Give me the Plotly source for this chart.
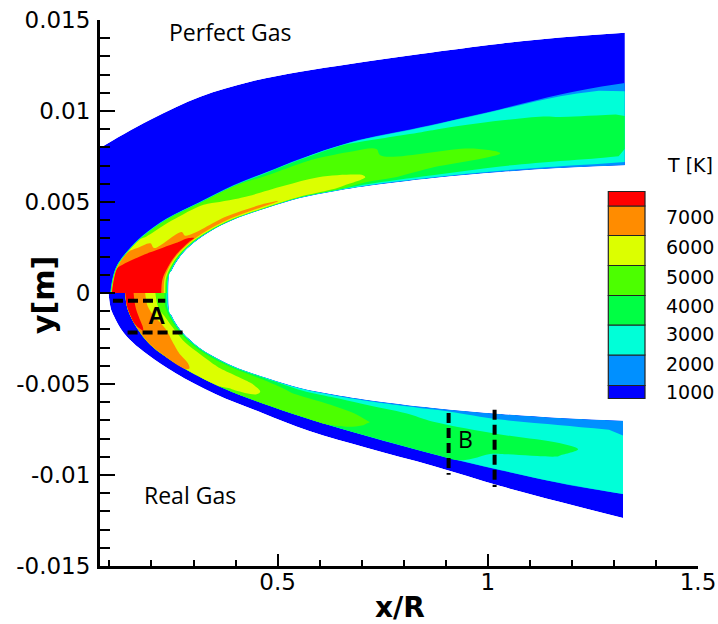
import plotly.graph_objects as go

# ---------------- data ----------------
# body surface, one point per station (upper half; the lower half is its mirror)
body_x = [0.2400, 0.2407, 0.2488, 0.2686, 0.3002, 0.3399, 0.3953, 0.4748,
          0.5540, 0.6325, 0.7134, 0.8704, 1.0298, 1.1725, 1.3260]
body_y = [0.0, 0.000714, 0.001264, 0.002011, 0.002747, 0.003385, 0.004028, 0.004670,
          0.005220, 0.005582, 0.005879, 0.006319, 0.006648, 0.006868, 0.007020]

# Perfect gas (upper half): shock and outer boundary per station
pg_shock_x = [0.1061, 0.1116, 0.1211, 0.1449, 0.1813, 0.2369, 0.3161, 0.3953,
              0.4748, 0.5540, 0.6729, 0.8394, 1.0298, 1.1725, 1.3260]
pg_shock_y = [0.0, 0.000824, 0.001484, 0.002253, 0.003110, 0.004028, 0.004945, 0.005857,
              0.006593, 0.007324, 0.008242, 0.009066, 0.010071, 0.010879, 0.011538]
pg_outer_x = [-0.2048, -0.1834, -0.1358, -0.0645, 0.0069, 0.0783, 0.1972, 0.3161,
              0.4351, 0.5540, 0.6729, 0.8394, 1.0298, 1.1725, 1.3260]
pg_outer_y = [0.0, 0.002198, 0.003956, 0.005604, 0.006923, 0.007983, 0.009522, 0.010786,
              0.011610, 0.012159, 0.012582, 0.013132, 0.013698, 0.014038, 0.014302]

# Real gas (lower half): shock and outer boundary per station
rg_shock_x = [0.1377, 0.1418, 0.1496, 0.1663, 0.1901, 0.2234, 0.2805, 0.3756,
              0.4826, 0.5897, 0.7134, 0.8704, 1.0298, 1.1725, 1.3216]
rg_shock_y = [0.0, -0.000714, -0.001220, -0.001940, -0.002659, -0.003330, -0.004176, -0.005275,
              -0.006209, -0.007033, -0.007857, -0.008846, -0.009725, -0.010440, -0.011044]
rg_outer_x = [0.0980, 0.1020, 0.1104, 0.1282, 0.1544, 0.1924, 0.2567, 0.3518,
              0.4636, 0.5754, 0.7134, 0.8704, 1.0298, 1.1725, 1.3216]
rg_outer_y = [0.0, -0.000714, -0.001253, -0.002000, -0.002692, -0.003407, -0.004396, -0.005549,
              -0.006593, -0.007582, -0.008516, -0.009505, -0.010604, -0.011484, -0.012363]

# temperature [K] across the shock layer (wall -> shock) at each station
layer_frac = [0.0, 0.04, 0.1, 0.2, 0.3, 0.45, 0.6, 0.75, 0.9, 1.0]
T_freestream = 300
pg_T = [
    [1500, 4500, 6800, 7600, 7800, 7900, 8000, 8000, 7800, 7500],
    [1500, 4500, 6900, 7600, 7800, 7900, 7950, 7900, 7600, 7300],
    [1500, 4500, 7000, 7600, 7750, 7800, 7750, 7600, 7200, 6900],
    [1500, 4500, 7000, 7500, 7600, 7400, 7100, 6700, 6300, 6000],
    [1500, 4500, 7100, 7200, 6900, 6500, 5950, 5600, 5200, 4800],
    [1500, 5000, 6800, 6400, 5950, 5600, 5400, 5200, 5000, 4500],
    [1500, 5200, 6400, 6000, 5650, 5400, 5300, 5150, 5000, 4300],
    [1500, 5600, 6150, 5900, 5550, 5200, 4900, 4700, 4500, 4000],
    [1500, 5000, 5800, 5650, 5400, 5100, 4700, 4500, 4200, 3600],
    [1500, 4800, 5500, 5450, 5250, 5000, 4600, 4400, 4100, 3300],
    [1500, 3000, 4300, 5050, 4950, 4750, 4500, 4200, 3700, 2900],
    [1500, 2800, 3600, 4000, 4400, 4300, 3950, 3600, 3100, 2500],
    [1500, 2500, 3100, 3850, 4000, 3800, 3500, 3250, 2750, 2000],
    [1500, 2300, 3050, 3500, 3600, 3450, 3200, 2900, 2500, 1900],
    [1500, 2200, 2950, 3300, 3400, 3300, 3080, 2700, 2300, 1800],
]
rg_T = [
    [1500, 3000, 4300, 4650, 5000, 5650, 6250, 6850, 7250, 7300],
    [1500, 3100, 4400, 4800, 5150, 5800, 6350, 6900, 7200, 7200],
    [1500, 3300, 4600, 5050, 5500, 6050, 6450, 6900, 7150, 7100],
    [1500, 3600, 4800, 5300, 5900, 6300, 6600, 6850, 7050, 6950],
    [1500, 3500, 4550, 5150, 5600, 6000, 6300, 6550, 6700, 6600],
    [1500, 3400, 4300, 5000, 5300, 5700, 5950, 6250, 6350, 6250],
    [1500, 3300, 4100, 4700, 4950, 5300, 5600, 5850, 5990, 6000],
    [1500, 3200, 3900, 4400, 4750, 5100, 5250, 5200, 5050, 4800],
    [1500, 2500, 3300, 3800, 4050, 4450, 4700, 4800, 4700, 4500],
    [1500, 2400, 3100, 3600, 3900, 4250, 4400, 4400, 4300, 4100],
    [1500, 2300, 2800, 3300, 3600, 3900, 4020, 3950, 3800, 3600],
    [1500, 2100, 2500, 2800, 3000, 3300, 3500, 3550, 3500, 3300],
    [1300, 1700, 2000, 2550, 2850, 3200, 3300, 2900, 2650, 2500],
    [1300, 1650, 1950, 2450, 2850, 3100, 2980, 2800, 2600, 2450],
    [1300, 1600, 1900, 2200, 2500, 2750, 2800, 2700, 2550, 2400],
]

levels = [1000, 2000, 3000, 4000, 5000, 6000, 7000]
level_labels = ["1000", "2000", "3000", "4000", "5000", "6000", "7000"]
band_colors = ["#0000ff", "#0090ff", "#00ffd8", "#00ff44",
               "#4cff00", "#dcff00", "#ff8c00", "#ff0000"]

x_ticks = [0.5, 1.0, 1.5]
x_ticktext = ["0.5", "1", "1.5"]
x_minor = [0.1, 0.2, 0.3, 0.4, 0.6, 0.7, 0.8, 0.9, 1.1, 1.2, 1.3, 1.4]
y_ticks = [-0.015, -0.01, -0.005, 0.0, 0.005, 0.01, 0.015]
y_ticktext = ["-0.015", "-0.01", "-0.005", "0", "0.005", "0.01", "0.015"]

# dashed marker lines (regions A and B)
A_lines = [([0.1085, 0.2329], [-0.000423, -0.000423]),
           ([0.1432, 0.2828], [-0.002165, -0.002165])]
B_lines = [([0.9068, 0.9068], [-0.006593, -0.009984]),
           ([1.0162, 1.0162], [-0.006412, -0.010660])]

# ---------------- build the body-fitted grids ----------------
b_nodes = layer_frac + [1.015, 2.0]


def build(bx, by, sx, sy, ox, oy, T):
    X, Y, Z = [], [], []
    n = len(bx)
    for k, b in enumerate(b_nodes):
        rx, ry, rz = [], [], []
        for i in range(n):
            if b <= 1.0:
                rx.append(bx[i] + b * (sx[i] - bx[i]))
                ry.append(by[i] + b * (sy[i] - by[i]))
                rz.append(T[i][k])
            else:
                t = b - 1.0
                rx.append(sx[i] + t * (ox[i] - sx[i]))
                ry.append(sy[i] + t * (oy[i] - sy[i]))
                rz.append(T_freestream)
        X.append(rx); Y.append(ry); Z.append(rz)
    return X, Y, Z


n_st = len(body_x)
a_idx = list(range(n_st))
body_y_low = [-v for v in body_y]
body_x_low = body_x[:-1] + [rg_shock_x[-1]]

Xu, Yu, Zu = build(body_x, body_y, pg_shock_x, pg_shock_y, pg_outer_x, pg_outer_y, pg_T)
Xl, Yl, Zl = build(body_x_low, body_y_low, rg_shock_x, rg_shock_y, rg_outer_x, rg_outer_y, rg_T)

# stepped colour scale: band midpoints map to k/7
nb = len(band_colors)
cscale = []
for k, c in enumerate(band_colors):
    lo = max(0.0, (k - 0.5) / (nb - 1))
    hi = min(1.0, (k + 0.5) / (nb - 1))
    cscale.append([lo, c])
    cscale.append([hi, c])

hidden_axis = dict(showgrid=False, showline=False, showticklabels="none",
                   startline=False, endline=False, minorgridcount=0,
                   gridcolor="rgba(0,0,0,0)", linecolor="rgba(0,0,0,0)")

fig = go.Figure()
for cid, X, Y, Z in [("pg", Xu, Yu, Zu), ("rg", Xl, Yl, Zl)]:
    fig.add_trace(go.Carpet(carpet=cid, a=a_idx, b=b_nodes, x=X, y=Y,
                            aaxis=dict(hidden_axis, smoothing=1),
                            baxis=dict(hidden_axis, smoothing=0)))
    fig.add_trace(go.Contourcarpet(carpet=cid, a=a_idx, b=b_nodes, z=Z,
                                   autocontour=False,
                                   contours=dict(start=levels[0], end=levels[-1],
                                                 size=levels[1] - levels[0],
                                                 coloring="fill", showlines=False),
                                   colorscale=cscale, showscale=False,
                                   line=dict(width=0, color="rgba(0,0,0,0)", smoothing=1)))

# dashed lines
for xs, ys in A_lines + B_lines:
    fig.add_shape(type="line", xref="x", yref="y", x0=xs[0], x1=xs[1], y0=ys[0], y1=ys[1],
                  line=dict(color="black", width=4, dash="10px,5px"))

# ---------------- layout ----------------
W, H = 718, 624
ML, MR, MT, MB = 100, 20, 20, 58
pw, ph = W - ML - MR, H - MT - MB


def px(xp):
    return (xp - ML) / pw


def py(yp):
    return (H - MB - yp) / ph


fig.update_layout(width=W, height=H, margin=dict(l=ML, r=MR, t=MT, b=MB, autoexpand=False),
                  plot_bgcolor="white", paper_bgcolor="white", showlegend=False)

tickfont = dict(family="DejaVu Sans", size=23, color="black")
fig.update_xaxes(range=[0.0776, 1.5], tickmode="array", tickvals=x_ticks,
                 ticktext=x_ticktext, ticks="inside", ticklen=12, tickwidth=2,
                 tickcolor="black", showline=True, linewidth=3, linecolor="black",
                 showgrid=False, zeroline=False, tickfont=tickfont, ticklabelstandoff=-7,
                 automargin=False,
                 minor=dict(tickmode="array", tickvals=x_minor,
                            ticks="inside", ticklen=6, tickwidth=2, tickcolor="black",
                            showgrid=False))
ymin = [round(-0.015 + 0.001 * i, 3) for i in range(31)]
ymin = [v for v in ymin if all(abs(v - m) > 1e-9 for m in y_ticks)]
fig.update_yaxes(range=[-0.015, 0.015], tickmode="array", tickvals=y_ticks,
                 ticktext=y_ticktext,
                 ticks="inside", ticklen=15, tickwidth=2, tickcolor="black",
                 showline=True, linewidth=3, linecolor="black", showgrid=False,
                 zeroline=False, tickfont=tickfont, ticklabelstandoff=2,
                 automargin=False,
                 minor=dict(tickmode="array", tickvals=ymin, ticks="inside", ticklen=10,
                            tickwidth=2, tickcolor="black", showgrid=False))

ann = []
ann.append(dict(text="<b>y[m]</b>", x=px(43), y=py(295), textangle=-90,
                font=dict(family="DejaVu Sans", size=30, color="black")))
ann.append(dict(text="<b>x/R</b>", x=px(400), y=py(607),
                font=dict(family="DejaVu Sans", size=28, color="black")))
ann.append(dict(text="Perfect Gas", x=px(230), y=py(32),
                font=dict(family="Open Sans", size=23, color="black")))
ann.append(dict(text="Real Gas", x=px(190), y=py(495),
                font=dict(family="Open Sans", size=23, color="black")))
ann.append(dict(text="<b>A</b>", x=px(156), y=py(315.5),
                font=dict(family="Liberation Sans", size=24, color="black")))
ann.append(dict(text="B", x=px(465), y=py(438.7),
                font=dict(family="Open Sans", size=23, color="black")))

# legend (colour key)
ann.append(dict(text="T [K]", x=px(690), y=py(165),
                font=dict(family="DejaVu Sans", size=19, color="black")))
label_y = [392.3, 364, 334.3, 305.7, 276.7, 246.7, 217.3]
for lab, yy in zip(level_labels, label_y):
    ann.append(dict(text=lab, x=px(690), y=py(yy),
                    font=dict(family="DejaVu Sans", size=19, color="black")))
box_edges = [398.5, 385.5, 355, 325, 295.5, 265.5, 235.5, 206, 191.5]
for k, c in enumerate(band_colors):
    fig.add_shape(type="rect", xref="paper", yref="paper",
                  x0=px(608.3), x1=px(645), y0=py(box_edges[k]), y1=py(box_edges[k + 1]),
                  fillcolor=c, line=dict(color="#222222", width=1.2))

for a in ann:
    a.setdefault("xref", "paper")
    a.setdefault("yref", "paper")
    a.setdefault("showarrow", False)
    a.setdefault("xanchor", "center")
    a.setdefault("yanchor", "middle")
fig.update_layout(annotations=ann)

fig.write_html("out.html")
